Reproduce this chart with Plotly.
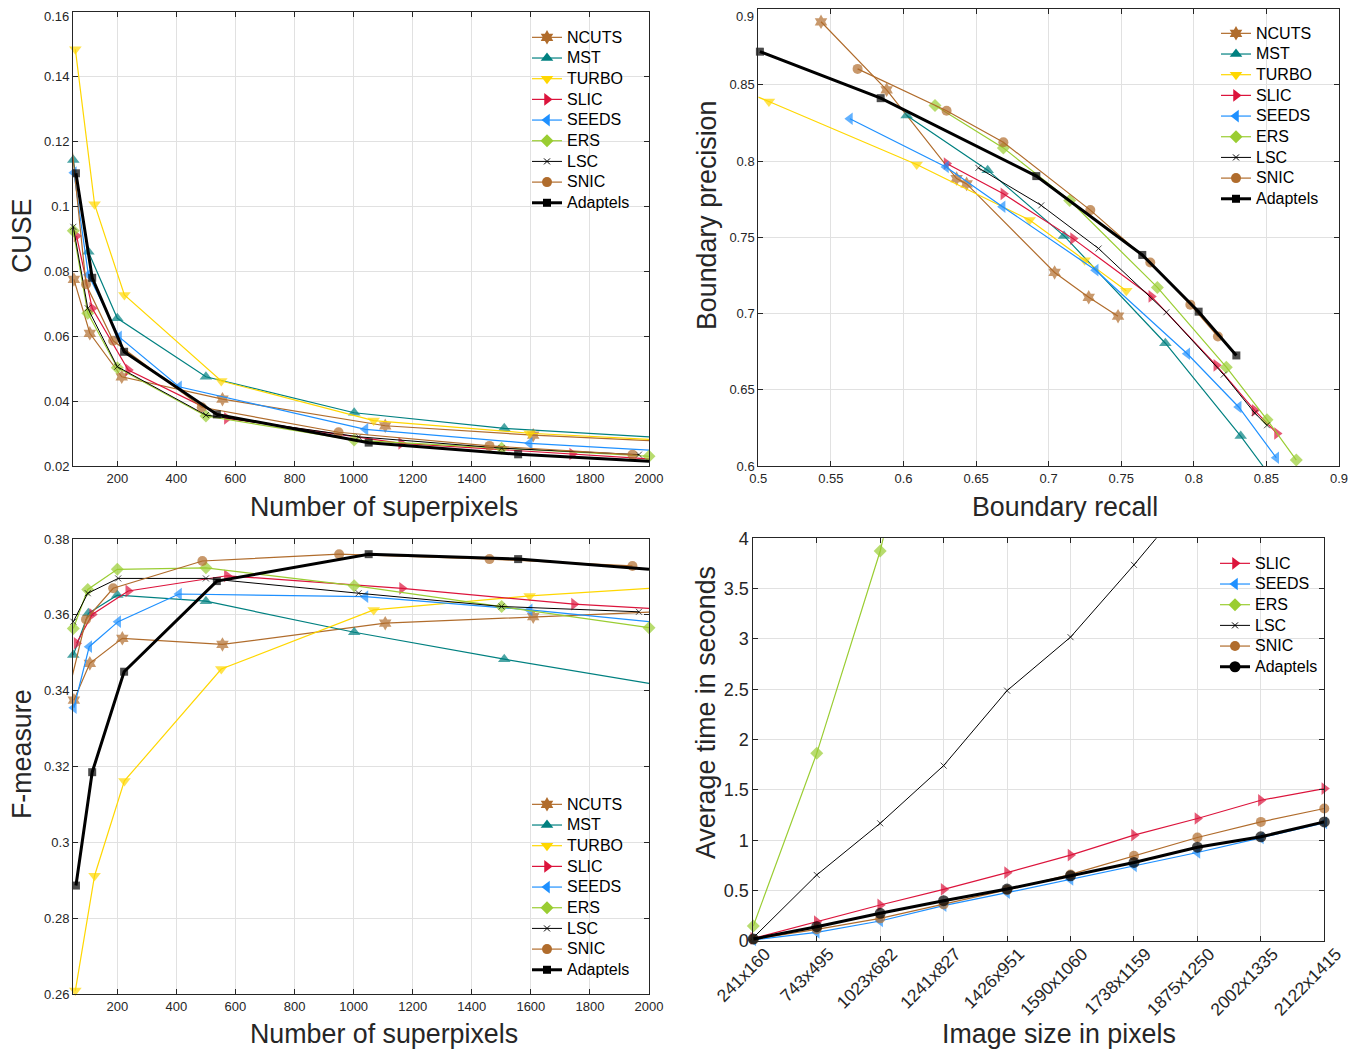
import plotly.graph_objects as go

# ---------------- DATA ----------------
methods = ["NCUTS", "MST", "TURBO", "SLIC", "SEEDS", "ERS", "LSC", "SNIC", "Adaptels"]

# Panel 1: CUSE vs number of superpixels
cuse_ncuts_x = [53, 107, 215, 556, 1107, 1608, 2000]
cuse_ncuts_y = [0.0775, 0.0609, 0.0475, 0.0406, 0.0324, 0.0295, 0.0278]
cuse_mst_x = [51, 102, 200, 500, 1002, 1510, 2000]
cuse_mst_y = [0.1143, 0.0860, 0.0655, 0.0475, 0.0364, 0.0316, 0.0290]
cuse_turbo_x = [58, 123, 224, 552, 1068, 1596, 2000]
cuse_turbo_y = [0.1484, 0.1007, 0.0727, 0.0462, 0.0340, 0.0301, 0.0282]
cuse_slic_x = [62, 115, 237, 571, 1161, 1740, 2000]
cuse_slic_y = [0.0909, 0.0686, 0.0496, 0.0347, 0.0270, 0.0237, 0.0222]
cuse_seeds_x = [53, 102, 206, 409, 1040, 1596, 2000]
cuse_seeds_y = [0.1104, 0.0789, 0.0598, 0.0444, 0.0313, 0.0270, 0.0249]
cuse_ers_x = [51, 100, 200, 500, 1002, 1501, 2000]
cuse_ers_y = [0.0925, 0.0671, 0.0503, 0.0354, 0.0280, 0.0255, 0.0230]
cuse_lsc_x = [51, 100, 200, 500, 1017, 1501, 1966]
cuse_lsc_y = [0.0937, 0.0686, 0.0506, 0.0357, 0.0290, 0.0255, 0.0235]
cuse_snic_x = [45, 94, 186, 486, 949, 1460, 1944]
cuse_snic_y = [0.1195, 0.0760, 0.0586, 0.0381, 0.0304, 0.0262, 0.0235]
cuse_adaptels_x = [60, 115, 223, 537, 1051, 1557, 2000]
cuse_adaptels_y = [0.1102, 0.0780, 0.0552, 0.0359, 0.0272, 0.0236, 0.0215]

# Panel 2: boundary recall (x) vs boundary precision (y)
br_ncuts_x = [0.5432, 0.5884, 0.6366, 0.6435, 0.7041, 0.7276, 0.7478]
br_ncuts_y = [0.8913, 0.8467, 0.7885, 0.7850, 0.7269, 0.7106, 0.6982]
br_mst_x = [0.6022, 0.6580, 0.7106, 0.7804, 0.8323, 0.8476]
br_mst_y = [0.8299, 0.7940, 0.7509, 0.6805, 0.6196, 0.6000]
br_turbo_x = [0.5000, 0.5073, 0.6091, 0.6869, 0.7248, 0.7535]
br_turbo_y = [0.8419, 0.8390, 0.7977, 0.7613, 0.7350, 0.7149]
br_slic_x = [0.6297, 0.6688, 0.7168, 0.7707, 0.8155, 0.8419, 0.8573]
br_slic_y = [0.7983, 0.7785, 0.7491, 0.7112, 0.6660, 0.6365, 0.6213]
br_seeds_x = [0.5631, 0.6293, 0.6683, 0.7324, 0.7955, 0.8309, 0.8568]
br_seeds_y = [0.8277, 0.7961, 0.7700, 0.7284, 0.6736, 0.6387, 0.6054]
br_ers_x = [0.6217, 0.6688, 0.7145, 0.7749, 0.8224, 0.8504, 0.8706]
br_ers_y = [0.8364, 0.8086, 0.7741, 0.7171, 0.6648, 0.6304, 0.6039]
br_lsc_x = [0.6516, 0.6949, 0.7344, 0.7811, 0.8206, 0.8419, 0.8504]
br_lsc_y = [0.7955, 0.7709, 0.7426, 0.7008, 0.6599, 0.6348, 0.6267]
br_snic_x = [0.5684, 0.6297, 0.6688, 0.7287, 0.7700, 0.7976, 0.8166]
br_snic_y = [0.8604, 0.8329, 0.8123, 0.7678, 0.7334, 0.7058, 0.6849]
br_adaptels_x = [0.5011, 0.5843, 0.6915, 0.7645, 0.8033, 0.8293]
br_adaptels_y = [0.8717, 0.8412, 0.7901, 0.7384, 0.7012, 0.6725]

# Panel 3: F-measure vs number of superpixels
fm_ncuts_x = [53, 107, 217, 556, 1107, 1608, 2000]
fm_ncuts_y = [0.3375, 0.3472, 0.3538, 0.3522, 0.3578, 0.3595, 0.3607]
fm_mst_x = [51, 102, 200, 500, 1002, 1510, 2000]
fm_mst_y = [0.3494, 0.3604, 0.3652, 0.3636, 0.3554, 0.3483, 0.3419]
fm_turbo_x = [58, 123, 224, 552, 1068, 1596, 2000]
fm_turbo_y = [0.2609, 0.2912, 0.3162, 0.3457, 0.3613, 0.3650, 0.3670]
fm_slic_x = [62, 115, 237, 571, 1164, 1746, 2000]
fm_slic_y = [0.3525, 0.3601, 0.3663, 0.3703, 0.3670, 0.3628, 0.3617]
fm_seeds_x = [53, 105, 203, 409, 1040, 1596, 2000]
fm_seeds_y = [0.3355, 0.3516, 0.3582, 0.3655, 0.3648, 0.3613, 0.3582]
fm_ers_x = [51, 100, 200, 500, 1002, 1501, 2000]
fm_ers_y = [0.3564, 0.3667, 0.3720, 0.3724, 0.3677, 0.3622, 0.3566]
fm_lsc_x = [51, 100, 203, 500, 1017, 1501, 1966]
fm_lsc_y = [0.3582, 0.3657, 0.3696, 0.3696, 0.3657, 0.3622, 0.3608]
fm_snic_x = [45, 94, 186, 488, 951, 1460, 1944]
fm_snic_y = [0.3430, 0.3588, 0.3670, 0.3742, 0.3760, 0.3747, 0.3729]
fm_adaptels_x = [60, 115, 223, 537, 1051, 1557, 2000]
fm_adaptels_y = [0.2886, 0.3185, 0.3450, 0.3689, 0.3760, 0.3747, 0.3720]

# Panel 4: average time (s) vs image size
image_sizes = ["241x160", "743x495", "1023x682", "1241x827", "1426x951",
               "1590x1060", "1738x1159", "1875x1250", "2002x1335", "2122x1415"]
time_slic = [0.026, 0.192, 0.358, 0.513, 0.679, 0.853, 1.051, 1.217, 1.398, 1.514]
time_seeds = [0.010, 0.086, 0.199, 0.351, 0.480, 0.612, 0.747, 0.879, 1.025, 1.174]
time_ers = [0.149, 1.864, 3.874, 6.53]
time_lsc = [0.033, 0.656, 1.169, 1.742, 2.487, 3.018, 3.736, 4.49]
time_snic = [0.017, 0.116, 0.225, 0.364, 0.507, 0.661, 0.846, 1.028, 1.183, 1.316]
time_adaptels = [0.020, 0.142, 0.275, 0.400, 0.516, 0.648, 0.780, 0.932, 1.035, 1.183]

# tick values / labels
sp_ticks = [200, 400, 600, 800, 1000, 1200, 1400, 1600, 1800, 2000]
cuse_ticks = [0.02, 0.04, 0.06, 0.08, 0.1, 0.12, 0.14, 0.16]
cuse_ticklabels = ["0.02", "0.04", "0.06", "0.08", "0.1", "0.12", "0.14", "0.16"]
recall_ticks = [0.5, 0.55, 0.6, 0.65, 0.7, 0.75, 0.8, 0.85, 0.9]
precision_ticks = [0.6, 0.65, 0.7, 0.75, 0.8, 0.85, 0.9]
precision_ticklabels = ["0.6", "0.65", "0.7", "0.75", "0.8", "0.85", "0.9"]
fm_ticks = [0.26, 0.28, 0.3, 0.32, 0.34, 0.36, 0.38]
time_ticks = [0, 0.5, 1, 1.5, 2, 2.5, 3, 3.5, 4]

# ---------------- STYLE ----------------
FONT = "Liberation Sans, Arial, sans-serif"
INK = "#262626"
GRID = "#e1e1e1"
BROWN = "#B06C2C"
style = {
    "NCUTS": dict(color=BROWN, symbol="hexagram", size=11, width=1.2),
    "MST": dict(color="#008080", symbol="triangle-up", size=11, width=1.2),
    "TURBO": dict(color="#FFD700", symbol="triangle-down", size=11, width=1.2),
    "SLIC": dict(color="#DC143C", symbol="triangle-right", size=11, width=1.2),
    "SEEDS": dict(color="#1E90FF", symbol="triangle-left", size=11, width=1.2),
    "ERS": dict(color="#9ACD32", symbol="diamond", size=10, width=1.2),
    "LSC": dict(color="#000000", symbol="x-thin-open", size=6, width=1.0),
    "SNIC": dict(color=BROWN, symbol="circle", size=10, width=1.2),
    "Adaptels": dict(color="#000000", symbol="square", size=8, width=3),
}
# points whose markers lie outside the axes (only the line reaches the edge)
hidden = {
    ("cuse", "NCUTS"): [-1], ("cuse", "MST"): [-1], ("cuse", "TURBO"): [-1],
    ("cuse", "SLIC"): [-1], ("cuse", "SEEDS"): [-1], ("cuse", "SNIC"): [0],
    ("cuse", "Adaptels"): [-1],
    ("br", "MST"): [-1], ("br", "TURBO"): [0],
    ("fm", "NCUTS"): [-1], ("fm", "MST"): [-1], ("fm", "TURBO"): [-1],
    ("fm", "SLIC"): [-1], ("fm", "SEEDS"): [-1], ("fm", "SNIC"): [0],
    ("fm", "Adaptels"): [-1],
    ("time", "ERS"): [-1], ("time", "LSC"): [-1],
}

panels = {
    "cuse": dict(xa="x", ya="y", legend="legend", data={
        "NCUTS": (cuse_ncuts_x, cuse_ncuts_y), "MST": (cuse_mst_x, cuse_mst_y),
        "TURBO": (cuse_turbo_x, cuse_turbo_y), "SLIC": (cuse_slic_x, cuse_slic_y),
        "SEEDS": (cuse_seeds_x, cuse_seeds_y), "ERS": (cuse_ers_x, cuse_ers_y),
        "LSC": (cuse_lsc_x, cuse_lsc_y), "SNIC": (cuse_snic_x, cuse_snic_y),
        "Adaptels": (cuse_adaptels_x, cuse_adaptels_y)}),
    "br": dict(xa="x2", ya="y2", legend="legend2", data={
        "NCUTS": (br_ncuts_x, br_ncuts_y), "MST": (br_mst_x, br_mst_y),
        "TURBO": (br_turbo_x, br_turbo_y), "SLIC": (br_slic_x, br_slic_y),
        "SEEDS": (br_seeds_x, br_seeds_y), "ERS": (br_ers_x, br_ers_y),
        "LSC": (br_lsc_x, br_lsc_y), "SNIC": (br_snic_x, br_snic_y),
        "Adaptels": (br_adaptels_x, br_adaptels_y)}),
    "fm": dict(xa="x3", ya="y3", legend="legend3", data={
        "NCUTS": (fm_ncuts_x, fm_ncuts_y), "MST": (fm_mst_x, fm_mst_y),
        "TURBO": (fm_turbo_x, fm_turbo_y), "SLIC": (fm_slic_x, fm_slic_y),
        "SEEDS": (fm_seeds_x, fm_seeds_y), "ERS": (fm_ers_x, fm_ers_y),
        "LSC": (fm_lsc_x, fm_lsc_y), "SNIC": (fm_snic_x, fm_snic_y),
        "Adaptels": (fm_adaptels_x, fm_adaptels_y)}),
    "time": dict(xa="x4", ya="y4", legend="legend4", data={
        "SLIC": (image_sizes[:len(time_slic)], time_slic),
        "SEEDS": (image_sizes[:len(time_seeds)], time_seeds),
        "ERS": (image_sizes[:len(time_ers)], time_ers),
        "LSC": (image_sizes[:len(time_lsc)], time_lsc),
        "SNIC": (image_sizes[:len(time_snic)], time_snic),
        "Adaptels": (image_sizes[:len(time_adaptels)], time_adaptels)}),
}

LEGEND_TEXT_PX = 16

fig = go.Figure()
for pkey, p in panels.items():
    for name, (xs, ys) in p["data"].items():
        st = dict(style[name])
        if pkey == "time" and name == "Adaptels":
            st["symbol"] = "circle"
            st["size"] = 11
        sizes = [st["size"]] * len(xs)
        for i in hidden.get((pkey, name), []):
            sizes[i] = 0
        mline = dict(width=st["width"] if "open" in st["symbol"] else 0, color=st["color"])
        fig.add_trace(go.Scatter(
            x=xs, y=ys, mode="lines+markers", name=name,
            xaxis=p["xa"], yaxis=p["ya"], showlegend=False, cliponaxis=False,
            line=dict(color=st["color"], width=st["width"]),
            marker=dict(symbol=st["symbol"], size=sizes, color=st["color"], line=mline),
        ))
        # legend entry
        fig.add_trace(go.Scatter(
            x=[None], y=[None], mode="lines+markers",
            name=f"<span style='font-size:{LEGEND_TEXT_PX}px'>{name}</span>",
            xaxis=p["xa"], yaxis=p["ya"], legend=p["legend"], showlegend=True,
            line=dict(color=st["color"], width=st["width"]),
            marker=dict(symbol=st["symbol"], size=st["size"], color=st["color"], line=mline),
        ))

W, H = 1364, 1050
OFF = 8  # page body margin: figure is drawn 8px right/down on screen


def clamp(v):
    return max(0.0, min(1.0, v))


def sx(px):
    return clamp((px - OFF) / W)


def sy(py):
    return clamp(1 - (py - OFF) / H)


def dom_x(a, b):
    return [sx(a), sx(b)]


def dom_y(top, bottom):
    return [sy(bottom), sy(top)]


TICK_PX = 13
axis_common = dict(
    showline=True, linecolor=INK, linewidth=1, mirror="ticks",
    ticks="inside", ticklen=5, tickcolor=INK, tickwidth=1,
    showgrid=True, gridcolor=GRID, gridwidth=1, zeroline=False, automargin=False,
    tickfont=dict(family=FONT, size=TICK_PX, color=INK), tickmode="array",
    ticklabeloverflow="allow",
)

# the topmost y labels of the upper panels sit at the page edge; draw them as annotations
cuse_text = cuse_ticklabels[:-1] + [""]
prec_text = precision_ticklabels[:-1] + [""]

fig.update_layout(
    width=W, height=H, margin=dict(l=0, r=0, t=0, b=0, autoexpand=False),
    paper_bgcolor="white", plot_bgcolor="white",
    font=dict(family=FONT, color=INK),
    xaxis=dict(axis_common, domain=dom_x(73, 649), range=[50, 2000], tickvals=sp_ticks, anchor="y"),
    yaxis=dict(axis_common, domain=dom_y(11.7, 466), range=[0.02, 0.16], tickvals=cuse_ticks,
               ticktext=cuse_text, anchor="x"),
    xaxis2=dict(axis_common, domain=dom_x(758.3, 1339), range=[0.5, 0.9], tickvals=recall_ticks, anchor="y2"),
    yaxis2=dict(axis_common, domain=dom_y(8.5, 466), range=[0.6, 0.9], tickvals=precision_ticks,
                ticktext=prec_text, anchor="x2"),
    xaxis3=dict(axis_common, domain=dom_x(73, 649), range=[50, 2000], tickvals=sp_ticks, anchor="y3"),
    yaxis3=dict(axis_common, domain=dom_y(539, 994), range=[0.26, 0.38], tickvals=fm_ticks, anchor="x3"),
    xaxis4=dict(axis_common, domain=dom_x(753.3, 1324.3), range=[0, 9], type="category",
                tickmode="auto", categoryorder="array", categoryarray=image_sizes, tickangle=-45,
                ticklabelshift=12, ticklabelstandoff=-5,
                tickfont=dict(family=FONT, size=17.5, color=INK), anchor="y4"),
    yaxis4=dict(axis_common, domain=dom_y(538.3, 941), range=[0, 4], tickvals=time_ticks,
                tickfont=dict(family=FONT, size=18, color=INK), anchor="x4"),
)

fig.add_annotation(text=cuse_ticklabels[-1], x=sx(70), y=sy(8), xref="paper", yref="paper",
                   xanchor="right", yanchor="top", showarrow=False, borderpad=0,
                   font=dict(family=FONT, size=TICK_PX, color=INK))
fig.add_annotation(text=precision_ticklabels[-1], x=sx(755), y=sy(8), xref="paper", yref="paper",
                   xanchor="right", yanchor="top", showarrow=False, borderpad=0,
                   font=dict(family=FONT, size=TICK_PX, color=INK))

# axis titles (screen positions)
titles = [
    ("CUSE", 22, 236, -90),
    ("Number of superpixels", 384, 507, 0),
    ("Boundary precision", 707, 216, -90),
    ("Boundary recall", 1065, 507, 0),
    ("F-measure", 22, 754, -90),
    ("Number of superpixels", 384, 1034, 0),
    ("Average time in seconds", 706, 713, -90),
    ("Image size in pixels", 1059, 1034, 0),
]
for text, px, py, ang in titles:
    fig.add_annotation(text=text, x=sx(px), y=sy(py), xref="paper", yref="paper",
                       xanchor="center", yanchor="middle", showarrow=False, textangle=ang,
                       font=dict(family=FONT, size=26.8, color=INK))

leg_common = dict(bgcolor="rgba(0,0,0,0)", borderwidth=0, xanchor="left", yanchor="top",
                  font=dict(family=FONT, size=13.6, color="#000000"), tracegroupgap=0)
fig.update_layout(
    legend=dict(leg_common, x=sx(527), y=sy(22)),
    legend2=dict(leg_common, x=sx(1216), y=sy(18)),
    legend3=dict(leg_common, x=sx(527), y=sy(789)),
    legend4=dict(leg_common, x=sx(1215), y=sy(548)),
)

fig.write_html("out.html")
